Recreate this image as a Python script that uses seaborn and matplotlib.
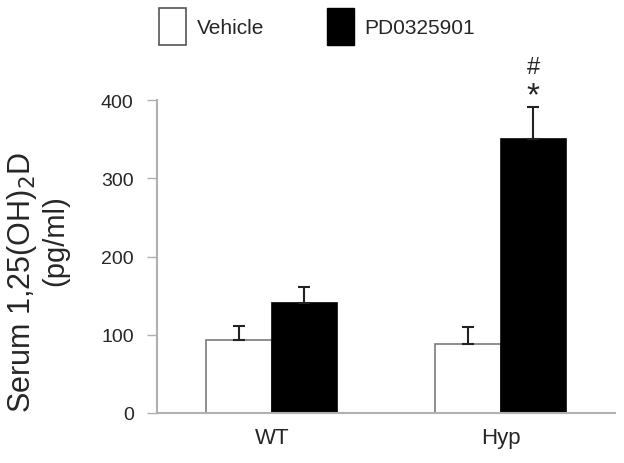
import numpy as np
import pandas as pd
import seaborn as sns
from matplotlib import pyplot as plt
from matplotlib.patches import Patch

groups = ["WT", "Hyp"]
treatments = ["Vehicle", "PD0325901"]
vehicle_mean = [93, 88]
vehicle_err = [18, 22]
pd_mean = [140, 350]
pd_err = [21, 41]

df = pd.DataFrame({
    "group": groups * 2,
    "treatment": [treatments[0]] * 2 + [treatments[1]] * 2,
    "value": vehicle_mean + pd_mean,
})

sns.set_style("white")
plt.rcParams["font.family"] = ["Liberation Sans", "DejaVu Sans"]

fig = plt.figure(figsize=(6.24, 4.64), dpi=100)
ax = fig.add_axes([0.252, 0.108, 0.734, 0.674])

sns.barplot(
    data=df, x="group", y="value", hue="treatment",
    order=groups, hue_order=treatments,
    palette={"Vehicle": "white", "PD0325901": "black"},
    width=0.57, gap=0, errorbar=None, legend=False, ax=ax,
)

edge_colors = ["#7a7a7a", "black"]
errs = [vehicle_err, pd_err]
for cont, ec, err in zip(ax.containers, edge_colors, errs):
    xs, tops = [], []
    for bar in cont:
        bar.set_edgecolor(ec)
        bar.set_linewidth(1.2)
        xs.append(bar.get_x() + bar.get_width() / 2)
        tops.append(bar.get_height())
    ax.errorbar(xs, tops, yerr=[np.zeros(len(err)), err], fmt="none",
                ecolor="#222222", elinewidth=1.5, capsize=4, capthick=1.5,
                clip_on=False, zorder=1)

# significance marks above Hyp / PD0325901
hyp_pd_x = ax.containers[1][1].get_x() + ax.containers[1][1].get_width() / 2
ax.text(hyp_pd_x, 405, "*", ha="center", va="center", fontsize=24, clip_on=False)
ax.text(hyp_pd_x, 443, "#", ha="center", va="center", fontsize=17, clip_on=False)

ax.set_ylim(0, 400)
ax.set_xlim(-0.5, 1.5)
ax.set_yticks([0, 100, 200, 300, 400])
ax.set_xlabel("")
ax.set_ylabel("")
ax.text(-0.295, 0.419, "Serum 1,25(OH)$_2$D", transform=ax.transAxes, rotation=90,
        ha="center", va="center", fontsize=22)
ax.text(-0.222, 0.553, "(pg/ml)", transform=ax.transAxes, rotation=90,
        ha="center", va="center", fontsize=21)
ax.tick_params(axis="y", labelsize=14, length=7, width=1, color="#b0b0b0", left=True, pad=10)
ax.tick_params(axis="x", labelsize=16, length=0, pad=10)

sns.despine(ax=ax, top=True, right=True)
for side in ["left", "bottom"]:
    ax.spines[side].set_color("#b0b0b0")
    ax.spines[side].set_linewidth(1.5)

handles = [Patch(facecolor="white", edgecolor="#555555", linewidth=1.2),
           Patch(facecolor="black", edgecolor="black")]
fig.legend(handles, treatments, loc="upper center", bbox_to_anchor=(0.508, 1.02),
           ncol=2, frameon=False, fontsize=15, handlelength=1.3, handleheight=2.3,
           columnspacing=3.0, handletextpad=0.5)

fig.savefig("out.png", dpi=100)
